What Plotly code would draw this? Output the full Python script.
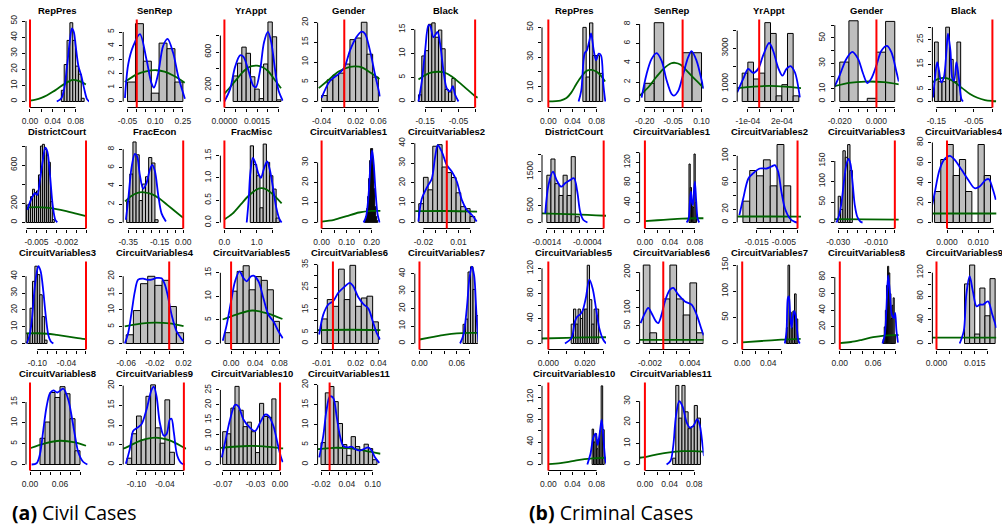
import plotly.graph_objects as go

W, H = 1002, 527

# ======================= (a) Civil cases =======================
civ_RepPres_edges = [0.055, 0.060, 0.065, 0.070, 0.075, 0.080, 0.085, 0.090, 0.095]
civ_RepPres_dens = [7, 23, 38, 49, 38, 22, 17, 2]
civ_RepPres_post_x = [0.047, 0.055, 0.060, 0.065, 0.070, 0.0735, 0.077, 0.080, 0.085, 0.090, 0.095, 0.100, 0.104]
civ_RepPres_post_y = [0, 2, 8, 22, 38, 45.5, 43, 35, 22, 16, 8, 1.5, 0]
civ_RepPres_prior_x = [0, 0.01, 0.02, 0.03, 0.04, 0.05, 0.06, 0.07, 0.075, 0.08, 0.09, 0.098]
civ_RepPres_prior_y = [0.6, 1.2, 2.3, 3.9, 6.0, 8.4, 10.8, 12.8, 13.4, 13.3, 12.2, 10.6]
civ_RepPres_xticks = [0, 0.02, 0.04, 0.06, 0.08]
civ_RepPres_xlabels = ['0.00', '', '0.04', '', '0.08']
civ_RepPres_yticks = [0, 10, 20, 30, 40, 50]
civ_RepPres_ylabels = ['0', '10', '20', '30', '40', '50']

civ_SenRep_edges = [-0.05, -0.007, 0.036, 0.079, 0.121, 0.164, 0.207, 0.25]
civ_SenRep_dens = [1.4, 5.6, 2.9, 0.6, 4.2, 3.8, 1.4]
civ_SenRep_post_x = [-0.064, -0.046, -0.019, 0.017, 0.053, 0.080, 0.093, 0.116, 0.143, 0.167, 0.197, 0.225, 0.261]
civ_SenRep_post_y = [0.25, 2.7, 4.0, 4.85, 3.0, 1.3, 1.0, 2.0, 4.0, 4.5, 3.5, 1.8, 0.2]
civ_SenRep_prior_x = [-0.065, 0, 0.05, 0.107, 0.15, 0.2, 0.26]
civ_SenRep_prior_y = [1.4, 1.95, 2.17, 2.25, 2.15, 1.85, 1.35]
civ_SenRep_xticks = [-0.05, 0, 0.05, 0.10, 0.15, 0.20, 0.25]
civ_SenRep_xlabels = ['-0.05', '', '', '0.10', '', '', '0.25']
civ_SenRep_yticks = [0, 1, 2, 3, 4, 5]
civ_SenRep_ylabels = ['0', '1', '2', '3', '4', '5']

civ_YrAppt_edges = [0.0004, 0.0006, 0.0008, 0.0010, 0.0012, 0.0014, 0.0016, 0.0018, 0.0020, 0.0022, 0.0024, 0.0026]
civ_YrAppt_dens = [310, 465, 660, 585, 300, 150, 35, 455, 965, 785, 20]
civ_YrAppt_post_x = [0, 0.00026, 0.00049, 0.00072, 0.00087, 0.0011, 0.00133, 0.00145, 0.00164, 0.00182, 0.0020, 0.00215, 0.00233, 0.00248, 0.00268]
civ_YrAppt_post_y = [0, 150, 420, 560, 545, 380, 190, 175, 380, 720, 845, 720, 380, 140, 10]
civ_YrAppt_prior_x = [0, 0.00025, 0.0005, 0.00075, 0.001, 0.00125, 0.0015, 0.00175, 0.002, 0.00225, 0.0026]
civ_YrAppt_prior_y = [95, 170, 250, 330, 395, 428, 435, 415, 370, 285, 160]
civ_YrAppt_xticks = [0, 0.0005, 0.001, 0.0015, 0.002, 0.0025]
civ_YrAppt_xlabels = ['0.0000', '', '', '0.0015', '', '']
civ_YrAppt_yticks = [0, 200, 400, 600, 800]
civ_YrAppt_ylabels = ['0', '200', '', '600', '']

civ_Gender_edges = [-0.04, -0.03, -0.02, -0.01, 0, 0.01, 0.02, 0.03, 0.04, 0.05, 0.06]
civ_Gender_dens = [1.5, 5.5, 6.7, 7.2, 9.5, 15.7, 16.1, 20.1, 12.0, 6.2]
civ_Gender_post_x = [-0.04, -0.0253, -0.0106, 0, 0.01, 0.0218, 0.0306, 0.0365, 0.0453, 0.0541, 0.063]
civ_Gender_post_y = [0.9, 5.2, 6.9, 8.6, 12.9, 16.4, 17.7, 17.2, 12.9, 6.9, 1.3]
civ_Gender_prior_x = [-0.045, -0.03, -0.01, 0.01, 0.02, 0.03, 0.045, 0.062]
civ_Gender_prior_y = [3.4, 5.2, 7.6, 8.8, 8.9, 8.7, 7.4, 5.7]
civ_Gender_xticks = [-0.04, -0.02, 0, 0.02, 0.04, 0.06]
civ_Gender_xlabels = ['-0.04', '', '', '0.02', '', '0.06']
civ_Gender_yticks = [0, 5, 10, 15, 20]
civ_Gender_ylabels = ['0', '5', '10', '15', '20']

civ_Black_edges = [-0.17, -0.16, -0.15, -0.14, -0.13, -0.12, -0.11, -0.10, -0.09, -0.08, -0.07, -0.06]
civ_Black_dens = [1.4, 9.5, 10.6, 16.1, 16.4, 13.4, 14.9, 11.0, 2.5, 2.0, 4.8]
civ_Black_post_x = [-0.17, -0.16, -0.15, -0.14, -0.135, -0.125, -0.113, -0.105, -0.095, -0.085, -0.075, -0.067, -0.06, -0.05]
civ_Black_post_y = [0, 4.2, 10.6, 15.9, 15.8, 13.4, 14.5, 12, 6.4, 2.7, 2.1, 3.2, 1.4, 0]
civ_Black_prior_x = [-0.17, -0.15, -0.13, -0.11, -0.09, -0.07, -0.05, -0.03, -0.01, 0, 0.008]
civ_Black_prior_y = [4.6, 5.5, 6.05, 6.2, 6.0, 5.2, 4.1, 2.9, 1.7, 1.1, 0.8]
civ_Black_xticks = [-0.15, -0.10, -0.05, 0]
civ_Black_xlabels = ['-0.15', '', '-0.05', '']
civ_Black_yticks = [0, 5, 10, 15]
civ_Black_ylabels = ['0', '5', '10', '15']

civ_DistrictCourt_edges = [-0.0060, -0.0058, -0.0056, -0.0054, -0.0052, -0.0050, -0.0048, -0.0046, -0.0044, -0.0042, -0.0040, -0.0038, -0.0036, -0.0034, -0.0032]
civ_DistrictCourt_dens = [184, 191, 271, 348, 313, 330, 498, 800, 818, 766, 706, 630, 219, 30]
civ_DistrictCourt_post_x = [-0.00593, -0.00549, -0.00515, -0.00492, -0.00465, -0.00438, -0.00411, -0.0039, -0.00364, -0.00337, -0.0031, -0.0029]
civ_DistrictCourt_post_y = [132, 254, 306, 289, 445, 637, 783, 741, 498, 184, 28, 3]
civ_DistrictCourt_prior_x = [-0.006, -0.005, -0.004, -0.003, -0.002, -0.001, 0]
civ_DistrictCourt_prior_y = [155, 160, 155, 140, 118, 92, 66]
civ_DistrictCourt_xticks = [-0.006, -0.005, -0.004, -0.003, -0.002, -0.001, 0]
civ_DistrictCourt_xlabels = ['', '-0.005', '', '', '-0.002', '', '']
civ_DistrictCourt_yticks = [0, 200, 400, 600, 800]
civ_DistrictCourt_ylabels = ['0', '200', '', '600', '']

civ_FracEcon_edges = [-0.36, -0.34, -0.32, -0.30, -0.28, -0.26, -0.24, -0.22, -0.20, -0.18, -0.16]
civ_FracEcon_dens = [2.3, 5.3, 8.8, 7.4, 2.4, 4.2, 5.0, 7.1, 6.5, 0.3]
civ_FracEcon_post_x = [-0.365, -0.35, -0.329, -0.308, -0.293, -0.276, -0.255, -0.234, -0.212, -0.197, -0.18, -0.159, -0.138, -0.11]
civ_FracEcon_post_y = [0.3, 2.5, 6, 7.5, 7.2, 5.2, 3.7, 4.3, 5.8, 6.3, 5.6, 3.0, 1.0, 0.1]
civ_FracEcon_prior_x = [-0.37, -0.33, -0.29, -0.25, -0.2, -0.15, -0.1, -0.05, 0]
civ_FracEcon_prior_y = [2.3, 2.9, 3.25, 3.3, 3.1, 2.6, 1.9, 1.2, 0.5]
civ_FracEcon_xticks = [-0.35, -0.30, -0.25, -0.20, -0.15, -0.10, -0.05, 0]
civ_FracEcon_xlabels = ['-0.35', '', '', '', '-0.15', '', '', '0.00']
civ_FracEcon_yticks = [0, 2, 4, 6, 8]
civ_FracEcon_ylabels = ['0', '2', '4', '6', '8']

civ_FracMisc_edges = [0.8, 0.9, 1.0, 1.1, 1.2, 1.3, 1.4, 1.5, 1.6, 1.7]
civ_FracMisc_dens = [1.72, 1.3, 1.05, 0.33, 1.76, 1.35, 1.05, 0.75, 0.1]
civ_FracMisc_post_x = [0.69, 0.75, 0.8, 0.88, 0.95, 1.05, 1.13, 1.22, 1.32, 1.4, 1.5, 1.6, 1.7, 1.77]
civ_FracMisc_post_y = [0, 0.5, 1.1, 1.45, 1.35, 1.1, 1.0, 1.2, 1.37, 1.2, 0.8, 0.35, 0.08, 0]
civ_FracMisc_prior_x = [0, 0.25, 0.5, 0.75, 1.0, 1.15, 1.3, 1.5, 1.77]
civ_FracMisc_prior_y = [0.07, 0.2, 0.4, 0.6, 0.74, 0.77, 0.74, 0.63, 0.43]
civ_FracMisc_xticks = [0, 0.5, 1.0, 1.5]
civ_FracMisc_xlabels = ['0.0', '', '1.0', '']
civ_FracMisc_yticks = [0, 0.5, 1.0, 1.5]
civ_FracMisc_ylabels = ['0.0', '0.5', '1.0', '1.5']

civ_CV1_edges = [0.172, 0.176, 0.180, 0.184, 0.188, 0.192, 0.196, 0.200, 0.204, 0.208, 0.212, 0.216, 0.220, 0.224]
civ_CV1_dens = [1, 3, 7, 13, 22, 31, 37, 37, 29, 17, 8, 3, 1]
civ_CV1_post_x = [0.168, 0.178, 0.188, 0.196, 0.202, 0.208, 0.216, 0.224, 0.232]
civ_CV1_post_y = [0, 3, 14, 30, 36, 30, 15, 4, 0]
civ_CV1_prior_x = [0, 0.05, 0.1, 0.15, 0.2, 0.236]
civ_CV1_prior_y = [0.4, 1.3, 3.2, 5.0, 5.8, 5.8]
civ_CV1_xticks = [0, 0.05, 0.10, 0.15, 0.20]
civ_CV1_xlabels = ['0.00', '', '0.10', '', '0.20']
civ_CV1_yticks = [0, 10, 20, 30]
civ_CV1_ylabels = ['0', '10', '20', '30']

civ_CV2_edges = [-0.024, -0.020, -0.016, -0.012, -0.008, -0.004, 0, 0.004, 0.008, 0.012, 0.016, 0.020, 0.024]
civ_CV2_dens = [9.5, 22.8, 16.5, 38.5, 39.3, 28, 25.2, 22.7, 15, 8, 7, 3]
civ_CV2_post_x = [-0.0243, -0.0214, -0.0163, -0.0129, -0.01, -0.0077, -0.0043, 0, 0.0043, 0.0086, 0.0129, 0.0171, 0.0214, 0.0257]
civ_CV2_post_y = [0.5, 12, 18.5, 22, 33, 39, 35.8, 29, 25.7, 20.7, 11.4, 6.4, 3.9, 0.5]
civ_CV2_prior_x = [-0.027, 0, 0.026]
civ_CV2_prior_y = [5.7, 5.8, 5.5]
civ_CV2_xticks = [-0.02, -0.01, 0, 0.01, 0.02]
civ_CV2_xlabels = ['-0.02', '', '', '0.01', '']
civ_CV2_yticks = [0, 10, 20, 30, 40]
civ_CV2_ylabels = ['0', '10', '20', '30', '40']

civ_CV3_edges = [-0.12, -0.115, -0.11, -0.105, -0.10, -0.095, -0.09, -0.085, -0.08]
civ_CV3_dens = [6, 21, 37, 46, 41, 29, 16, 2]
civ_CV3_post_x = [-0.1219, -0.1164, -0.1116, -0.1062, -0.1014, -0.0979, -0.0932, -0.0877, -0.0829, -0.0774, -0.0726, -0.0671]
civ_CV3_post_y = [0, 4.4, 13, 31, 42, 46, 43, 31, 17, 5, 1.4, 0]
civ_CV3_prior_x = [-0.123, -0.1, -0.08, -0.06, -0.04, -0.02, 0]
civ_CV3_prior_y = [6.0, 6.1, 5.8, 5.1, 4.3, 3.4, 2.6]
civ_CV3_xticks = [-0.10, -0.08, -0.06, -0.04, -0.02, 0]
civ_CV3_xlabels = ['-0.10', '', '', '-0.04', '', '']
civ_CV3_yticks = [0, 10, 20, 30, 40]
civ_CV3_ylabels = ['0', '10', '20', '30', '40']

civ_CV4_edges = [-0.06, -0.05, -0.04, -0.03, -0.02, -0.01, 0, 0.01, 0.02]
civ_CV4_dens = [2.6, 9.8, 17.8, 20.0, 17.3, 18.8, 11.0, 3.2]
civ_CV4_post_x = [-0.0619, -0.0572, -0.0526, -0.0479, -0.0433, -0.0363, -0.0316, -0.0247, -0.0177, -0.0107, -0.006, -0.0014, 0.0033, 0.0102, 0.0195]
civ_CV4_post_y = [0, 3.2, 9.1, 15.5, 19, 19.3, 19.0, 19, 19.5, 19.4, 17.5, 13.6, 8.6, 3.7, 0.7]
civ_CV4_prior_x = [-0.062, -0.04, -0.02, 0, 0.02]
civ_CV4_prior_y = [5.1, 5.9, 6.2, 6.0, 5.2]
civ_CV4_xticks = [-0.06, -0.04, -0.02, 0, 0.02]
civ_CV4_xlabels = ['-0.06', '', '-0.02', '', '0.02']
civ_CV4_yticks = [0, 5, 10, 15, 20]
civ_CV4_ylabels = ['0', '5', '10', '15', '20']

civ_CV5_edges = [-0.01, 0, 0.01, 0.02, 0.03, 0.04, 0.05, 0.06, 0.07, 0.08]
civ_CV5_dens = [2.3, 11.1, 15.3, 16.5, 11.4, 14.2, 13.4, 11.4, 4.7]
civ_CV5_post_x = [-0.0138, -0.0072, 0, 0.0066, 0.0138, 0.0204, 0.0259, 0.0326, 0.037, 0.0453, 0.0535, 0.0618, 0.0701, 0.0784, 0.0855]
civ_CV5_post_y = [0.6, 4, 9, 13.2, 15.3, 13.9, 13.2, 14.2, 14.4, 13.2, 9.6, 6.1, 4.7, 2.6, 1.1]
civ_CV5_prior_x = [-0.014, 0.01, 0.035, 0.06, 0.085]
civ_CV5_prior_y = [5.1, 6.2, 7.0, 6.4, 5.2]
civ_CV5_xticks = [0, 0.02, 0.04, 0.06, 0.08]
civ_CV5_xlabels = ['0.00', '', '0.04', '', '0.08']
civ_CV5_yticks = [0, 5, 10, 15]
civ_CV5_ylabels = ['0', '5', '10', '15']

civ_CV6_edges = [-0.01, -0.005, 0, 0.005, 0.01, 0.015, 0.02, 0.025, 0.03, 0.035, 0.04]
civ_CV6_dens = [10.9, 19.5, 16.5, 33.0, 19.5, 34.7, 16.5, 20.2, 21.0, 9.6]
civ_CV6_post_x = [-0.0121, -0.0085, -0.0041, 0.0003, 0.0047, 0.0091, 0.015, 0.0179, 0.0224, 0.0268, 0.0312, 0.035, 0.0385, 0.0415]
civ_CV6_post_y = [4, 12.8, 17.3, 18.8, 22.5, 24.7, 26.9, 25.4, 20.5, 17.5, 15.5, 10, 4.7, 1.8]
civ_CV6_prior_x = [-0.0135, 0.015, 0.042]
civ_CV6_prior_y = [5.9, 6.1, 5.9]
civ_CV6_xticks = [-0.01, 0, 0.01, 0.02, 0.03, 0.04]
civ_CV6_xlabels = ['-0.01', '', '', '0.02', '', '0.04']
civ_CV6_yticks = [0, 5, 10, 15, 20, 25, 30, 35]
civ_CV6_ylabels = ['0', '5', '', '15', '', '25', '', '35']

civ_CV7_edges = [0.070, 0.074, 0.078, 0.082, 0.086, 0.090, 0.094]
civ_CV7_dens = [11, 14, 41, 44, 31, 16]
civ_CV7_post_x = [0.0653, 0.0707, 0.076, 0.0803, 0.0841, 0.0878, 0.0911, 0.0937, 0.095]
civ_CV7_post_y = [0, 5, 20, 37.5, 44, 39, 20, 5, 1]
civ_CV7_prior_x = [0, 0.02, 0.04, 0.06, 0.08, 0.094]
civ_CV7_prior_y = [2.3, 3.6, 4.9, 5.8, 6.1, 6.1]
civ_CV7_xticks = [0, 0.02, 0.04, 0.06, 0.08]
civ_CV7_xlabels = ['0.00', '', '', '0.06', '']
civ_CV7_yticks = [0, 10, 20, 30, 40]
civ_CV7_ylabels = ['0', '10', '20', '30', '40']

civ_CV8_edges = [0.02, 0.03, 0.04, 0.05, 0.06, 0.07, 0.08, 0.09, 0.10]
civ_CV8_dens = [6.3, 10.2, 17.3, 16.1, 18.7, 17.0, 11.0, 3.3]
civ_CV8_post_x = [0.0033, 0.0133, 0.02, 0.0267, 0.0333, 0.04, 0.0467, 0.0547, 0.0667, 0.0767, 0.0833, 0.09, 0.0967, 0.1067, 0.1147]
civ_CV8_post_y = [0, 0.3, 2.5, 8.4, 14, 17.1, 17.8, 17.3, 18.2, 15.5, 11.6, 6.9, 2.9, 0.6, 0]
civ_CV8_prior_x = [0, 0.03, 0.06, 0.09, 0.112]
civ_CV8_prior_y = [3.9, 5.1, 5.7, 5.3, 4.5]
civ_CV8_xticks = [0, 0.02, 0.04, 0.06, 0.08, 0.10]
civ_CV8_xlabels = ['0.00', '', '', '0.06', '', '']
civ_CV8_yticks = [0, 5, 10, 15]
civ_CV8_ylabels = ['0', '5', '10', '15']

civ_CV9_edges = [-0.12, -0.11, -0.10, -0.09, -0.08, -0.07, -0.06, -0.05, -0.04, -0.03, -0.02]
civ_CV9_dens = [1.6, 7.8, 12.3, 6.3, 17.3, 20.2, 9.3, 5.4, 16.4, 3.1]
civ_CV9_post_x = [-0.1225, -0.1141, -0.107, -0.0986, -0.0894, -0.0789, -0.0683, -0.0634, -0.0577, -0.0507, -0.0423, -0.0366, -0.0296, -0.0261, -0.0211, -0.0141, -0.0049, 0.0021]
civ_CV9_post_y = [0.2, 3.9, 8.5, 9.3, 10.2, 13.9, 18.9, 19.75, 17.3, 10.6, 7.3, 7.7, 11.4, 11.6, 8.1, 2.3, 0.3, 0]
civ_CV9_prior_x = [-0.128, -0.12, -0.09, -0.06, -0.03, 0, 0.005]
civ_CV9_prior_y = [4.0, 4.4, 6.1, 6.8, 6.1, 4.3, 4.0]
civ_CV9_xticks = [-0.10, -0.08, -0.06, -0.04, -0.02, 0]
civ_CV9_xlabels = ['-0.10', '', '', '-0.04', '', '']
civ_CV9_yticks = [0, 5, 10, 15, 20]
civ_CV9_ylabels = ['0', '5', '10', '15', '20']

civ_CV10_edges = [-0.070, -0.065, -0.060, -0.055, -0.050, -0.045, -0.040, -0.035, -0.030, -0.025, -0.020, -0.015, -0.010, -0.005]
civ_CV10_dens = [11.0, 10.3, 18.9, 26.2, 18.2, 12.7, 14.2, 11.0, 4.0, 20.5, 16.1, 15.8, 22.0]
civ_CV10_post_x = [-0.0711, -0.0671, -0.061, -0.0549, -0.0508, -0.0447, -0.0366, -0.0305, -0.0244, -0.0183, -0.0142, -0.0081, -0.0033, 0.0008, 0.0033]
civ_CV10_post_y = [2.4, 7.4, 15.1, 20, 19.5, 15.1, 12.3, 11.2, 14, 16.7, 16.4, 12.9, 7.4, 2.8, 0.8]
civ_CV10_prior_x = [-0.072, -0.04, -0.02, 0, 0.004]
civ_CV10_prior_y = [5.6, 6.2, 6.1, 5.5, 5.4]
civ_CV10_xticks = [-0.07, -0.06, -0.05, -0.04, -0.03, -0.02, -0.01, 0]
civ_CV10_xlabels = ['-0.07', '', '', '', '-0.03', '', '', '0.00']
civ_CV10_yticks = [0, 5, 10, 15, 20, 25]
civ_CV10_ylabels = ['0', '5', '10', '15', '20', '25']

civ_CV11_edges = [-0.02, -0.01, 0, 0.01, 0.02, 0.03, 0.04, 0.05, 0.06, 0.07, 0.08, 0.09, 0.10, 0.11]
civ_CV11_dens = [5.5, 18.0, 19.6, 15.8, 10.3, 5.0, 2.3, 7.0, 4.5, 3.6, 5.1, 4.0, 1.2]
civ_CV11_post_x = [-0.024, -0.0147, -0.007, 0.0008, 0.0085, 0.0163, 0.024, 0.0317, 0.0433, 0.0511, 0.0588, 0.0704, 0.082, 0.0898, 0.0975, 0.1053, 0.1153]
civ_CV11_post_y = [1.8, 7.2, 13.8, 17.1, 16.7, 12.1, 7.2, 4.7, 4.3, 4.5, 3.9, 3.5, 4.0, 4.3, 3.5, 1.8, 0.4]
civ_CV11_prior_x = [-0.028, -0.022, 0.01, 0.04, 0.07, 0.1, 0.118]
civ_CV11_prior_y = [3.85, 3.9, 4.2, 4.1, 3.7, 3.1, 2.7]
civ_CV11_xticks = [-0.02, 0, 0.02, 0.04, 0.06, 0.08, 0.10]
civ_CV11_xlabels = ['-0.02', '', '', '0.04', '', '', '0.10']
civ_CV11_yticks = [0, 5, 10, 15, 20]
civ_CV11_ylabels = ['0', '5', '10', '15', '20']

# ======================= (b) Criminal cases =======================
crim_RepPres_edges = [0.0572, 0.0627, 0.0682, 0.0737, 0.0792, 0.0847, 0.0902]
crim_RepPres_dens = [50, 16.5, 53, 31, 31, 19]
crim_RepPres_post_x = [0.0501, 0.0545, 0.06, 0.0638, 0.0681, 0.0708, 0.0752, 0.079, 0.0834, 0.0872, 0.091, 0.0943]
crim_RepPres_post_y = [0, 7.3, 32.3, 34.5, 41.4, 45.9, 34.5, 27.7, 32.3, 31.1, 11.8, 0]
crim_RepPres_prior_x = [0, 0.02, 0.03, 0.038, 0.046, 0.055, 0.064, 0.072, 0.08, 0.088, 0.094]
crim_RepPres_prior_y = [0.1, 0.6, 2.3, 6, 11.5, 17, 20.8, 21.3, 20, 17, 13.5]
crim_RepPres_xticks = [0, 0.02, 0.04, 0.06, 0.08]
crim_RepPres_xlabels = ['0.00', '', '0.04', '', '0.08']
crim_RepPres_yticks = [0, 10, 20, 30, 40, 50]
crim_RepPres_ylabels = ['0', '10', '', '30', '', '50']

crim_SenRep_edges = [-0.20, -0.15, -0.10, -0.05, 0, 0.05, 0.10]
crim_SenRep_dens = [1.88, 8.14, 0, 0, 5.04, 5.04]
crim_SenRep_post_x = [-0.217, -0.1905, -0.164, -0.1376, -0.111, -0.0847, -0.0582, -0.0459, -0.0229, 0.0035, 0.03, 0.0476, 0.074, 0.1005, 0.111]
crim_SenRep_post_y = [0.4, 2.85, 4.4, 5.0, 4.2, 2.2, 0.77, 0.6, 1.1, 2.85, 4.6, 5.2, 4.2, 2.2, 1.3]
crim_SenRep_prior_x = [-0.227, -0.18, -0.14, -0.1, -0.06, -0.04, -0.01, 0.03, 0.07, 0.111]
crim_SenRep_prior_y = [0.6, 1.5, 2.5, 3.4, 3.95, 4.0, 3.8, 3.0, 2.2, 1.4]
crim_SenRep_xticks = [-0.20, -0.15, -0.10, -0.05, 0, 0.05, 0.10]
crim_SenRep_xlabels = ['-0.20', '', '', '-0.05', '', '', '0.10']
crim_SenRep_yticks = [0, 2, 4, 6, 8]
crim_SenRep_ylabels = ['0', '2', '4', '6', '8']

crim_YrAppt_edges = [-0.00015, -0.00010, -0.00005, 0, 0.00005, 0.00010, 0.00015, 0.00020, 0.00025, 0.00030, 0.00035]
crim_YrAppt_dens = [1600, 2220, 1270, 1600, 4450, 3840, 320, 950, 3840, 320]
crim_YrAppt_post_x = [-1.94e-4, -1.41e-4, -0.97e-4, -0.53e-4, -0.09e-4, 0.35e-4, 0.88e-4, 1.24e-4, 1.68e-4, 2.06e-4, 2.41e-4, 2.76e-4, 3.15e-4, 3.59e-4]
crim_YrAppt_post_y = [510, 1270, 1840, 1610, 1840, 2600, 3300, 2850, 1900, 1460, 1840, 2000, 1650, 230]
crim_YrAppt_prior_x = [-1.94e-4, -0.5e-4, 0.9e-4, 2.3e-4, 3.7e-4]
crim_YrAppt_prior_y = [760, 840, 880, 840, 760]
crim_YrAppt_xticks = [-1e-4, 0, 1e-4, 2e-4, 3e-4]
crim_YrAppt_xlabels = ['-1e-04', '', '', '2e-04', '']
crim_YrAppt_yticks = [0, 1000, 2000, 3000, 4000]
crim_YrAppt_ylabels = ['0', '1000', '', '3000', '']

crim_Gender_edges = [-0.020, -0.015, -0.010, -0.005, 0, 0.005, 0.010]
crim_Gender_dens = [31, 63.5, 0, 2.5, 38.8, 63]
crim_Gender_post_x = [-0.0227, -0.02, -0.0164, -0.0131, -0.01, -0.0073, -0.0049, -0.0027, 0, 0.0027, 0.0058, 0.0082, 0.0109, 0.0122]
crim_Gender_post_y = [12, 20.8, 33.5, 39, 33.5, 22, 14.5, 18.3, 28.4, 40, 43.7, 38.6, 23.4, 15.7]
crim_Gender_prior_x = [-0.0227, -0.015, -0.006, 0.004, 0.0122]
crim_Gender_prior_y = [12, 14.6, 15.7, 15.2, 13.5]
crim_Gender_xticks = [-0.020, -0.015, -0.010, -0.005, 0, 0.005, 0.010]
crim_Gender_xlabels = ['-0.020', '', '', '', '0.000', '', '']
crim_Gender_yticks = [0, 10, 20, 30, 40, 50, 60]
crim_Gender_ylabels = ['0', '10', '', '30', '', '50', '']

crim_Black_edges = [-0.155, -0.145, -0.135, -0.125, -0.115, -0.105, -0.095, -0.085]
crim_Black_dens = [24, 8, 8, 30, 17, 8, 24]
crim_Black_post_x = [-0.159, -0.1545, -0.148, -0.143, -0.137, -0.13, -0.123, -0.119, -0.1125, -0.107, -0.1027, -0.0964, -0.0902, -0.083, -0.0786]
crim_Black_post_y = [1.6, 8.4, 15.9, 12.5, 7.7, 9.8, 20.6, 27.4, 20.6, 9.1, 8.4, 15.9, 9.8, 1, 0]
crim_Black_prior_x = [-0.16, -0.145, -0.13, -0.115, -0.1, -0.08, -0.06, -0.04, -0.02, 0, 0.01]
crim_Black_prior_y = [7.8, 9.1, 9.5, 9.0, 7.7, 5.3, 3.0, 1.5, 0.6, 0.2, 0.1]
crim_Black_xticks = [-0.15, -0.10, -0.05, 0]
crim_Black_xlabels = ['-0.15', '', '-0.05', '']
crim_Black_yticks = [0, 5, 10, 15, 20, 25, 30]
crim_Black_ylabels = ['0', '5', '', '15', '', '25', '']

crim_DistrictCourt_edges = [-0.0014, -0.0013, -0.0012, -0.0011, -0.0010, -0.0009, -0.0008, -0.0007, -0.0006]
crim_DistrictCourt_dens = [1400, 1880, 1150, 800, 1400, 800, 1950, 170]
crim_DistrictCourt_post_x = [-0.00144, -0.00136, -0.00125, -0.00116, -0.00105, -0.00095, -0.00083, -0.00073, -0.00065, -0.00058, -0.0005, -0.0004]
crim_DistrictCourt_post_y = [270, 1110, 1505, 1255, 1060, 1160, 1255, 1310, 910, 320, 74, 0]
crim_DistrictCourt_prior_x = [-0.00152, -0.0007, 0.00006]
crim_DistrictCourt_prior_y = [268, 240, 200]
crim_DistrictCourt_xticks = [-0.0014, -0.0012, -0.0010, -0.0008, -0.0006, -0.0004, -0.0002, 0]
crim_DistrictCourt_xlabels = ['-0.0014', '', '', '', '', '-0.0004', '', '']
crim_DistrictCourt_yticks = [0, 500, 1000, 1500, 2000]
crim_DistrictCourt_ylabels = ['0', '500', '', '1500', '']

crim_CV1_edges = [0.0705, 0.0725, 0.0745, 0.0765, 0.0785, 0.0805, 0.0825]
crim_CV1_dens = [117, 70, 33, 30, 137, 40]
crim_CV1_post_x = [0.0667, 0.0699, 0.072, 0.0736, 0.0752, 0.0768, 0.0784, 0.080, 0.0821, 0.0843, 0.0869]
crim_CV1_post_y = [0, 8, 41, 61.7, 41, 35, 61.7, 81.7, 41.7, 8, 0]
crim_CV1_prior_x = [0, 0.02, 0.04, 0.06, 0.08, 0.094]
crim_CV1_prior_y = [2.8, 4.5, 6.3, 7.8, 8.5, 8.5]
crim_CV1_xticks = [0, 0.02, 0.04, 0.06, 0.08]
crim_CV1_xlabels = ['0.00', '', '0.04', '', '0.08']
crim_CV1_yticks = [0, 20, 40, 60, 80, 100, 120, 140]
crim_CV1_ylabels = ['0', '', '40', '', '80', '', '120', '']

crim_CV2_edges = [-0.0200, -0.0175, -0.0150, -0.0125, -0.0100, -0.0075, -0.0050, -0.0025]
crim_CV2_dens = [32, 78, 70, 94, 55, 117, 55]
crim_CV2_post_x = [-0.0213, -0.0199, -0.018, -0.0162, -0.0138, -0.0113, -0.0095, -0.0083, -0.0071, -0.0059, -0.0046, -0.0028, -0.001, 0]
crim_CV2_post_y = [11, 36, 66, 74, 81, 81, 84, 86, 76, 46, 21, 6, 1, 0]
crim_CV2_prior_x = [-0.022, -0.01, 0.0013]
crim_CV2_prior_y = [9, 9, 8.8]
crim_CV2_xticks = [-0.015, -0.010, -0.005, 0]
crim_CV2_xlabels = ['-0.015', '', '-0.005', '']
crim_CV2_yticks = [0, 20, 40, 60, 80, 100]
crim_CV2_ylabels = ['0', '20', '', '60', '', '100']

crim_CV3_edges = [-0.03, -0.02875, -0.0275, -0.02625, -0.025, -0.02375, -0.0225]
crim_CV3_dens = [64, 32, 175, 159, 190, 127]
crim_CV3_post_x = [-0.0309, -0.0295, -0.0282, -0.027, -0.0256, -0.0245, -0.0235, -0.0224, -0.0212, -0.0199, -0.0182, -0.0171]
crim_CV3_post_y = [0, 18, 50, 98, 143, 155, 143, 98, 42, 14, 2, 0]
crim_CV3_prior_x = [-0.0318, -0.015, 0.0021]
crim_CV3_prior_y = [8, 7.5, 7]
crim_CV3_xticks = [-0.030, -0.025, -0.020, -0.015, -0.010, -0.005, 0]
crim_CV3_xlabels = ['-0.030', '', '', '', '-0.010', '', '']
crim_CV3_yticks = [0, 50, 100, 150]
crim_CV3_ylabels = ['0', '50', '100', '150']

crim_CV4_edges = [-0.004, -0.002, 0, 0.002, 0.004, 0.006, 0.008, 0.010, 0.012, 0.014]
crim_CV4_dens = [31, 63, 78, 47, 63, 31, 0, 78, 47]
crim_CV4_post_x = [-0.0051, -0.004, -0.0024, -0.0008, 0.0009, 0.0025, 0.0047, 0.0068, 0.0089, 0.0105, 0.0125, 0.0135, 0.0148, 0.0157]
crim_CV4_post_y = [12.7, 29, 52.7, 63.3, 66.7, 62.7, 52.7, 42.7, 34.3, 36, 42.7, 43.3, 32.7, 22.7]
crim_CV4_prior_x = [-0.0047, 0.016]
crim_CV4_prior_y = [9, 9]
crim_CV4_xticks = [0, 0.005, 0.010, 0.015]
crim_CV4_xlabels = ['0.000', '', '0.010', '']
crim_CV4_yticks = [0, 20, 40, 60, 80]
crim_CV4_ylabels = ['0', '20', '40', '60', '80']

crim_CV5_edges = [0.0125, 0.01375, 0.015, 0.01625, 0.0175, 0.01875, 0.02, 0.02125, 0.0225, 0.02375, 0.025, 0.02625, 0.0275]
crim_CV5_dens = [31, 55, 31, 55, 40, 55, 55, 125, 70, 31, 55, 55]
crim_CV5_post_x = [0.0091, 0.0127, 0.0145, 0.0158, 0.0173, 0.0187, 0.0205, 0.0224, 0.0242, 0.026, 0.0278, 0.030, 0.0315]
crim_CV5_post_y = [0, 9, 35, 43, 46, 52, 73, 102, 88, 57, 25, 6, 0]
crim_CV5_prior_x = [-0.0035, 0.01, 0.02, 0.0315]
crim_CV5_prior_y = [8, 9, 9.7, 10]
crim_CV5_xticks = [0, 0.01, 0.02, 0.03]
crim_CV5_xlabels = ['0.000', '', '0.020', '']
crim_CV5_yticks = [0, 20, 40, 60, 80, 100, 120]
crim_CV5_ylabels = ['0', '', '40', '', '80', '', '120']

crim_CV6_edges = [-0.003, -0.002, -0.001, 0, 0.001, 0.002, 0.003, 0.004, 0.005, 0.006]
crim_CV6_dens = [220, 30, 0, 125, 220, 125, 80, 170, 30]
crim_CV6_post_x = [-0.0034, -0.00275, -0.00225, -0.00175, -0.0011, -0.00075, -0.00025, 0.00025, 0.001, 0.0015, 0.00225, 0.00325, 0.00425, 0.005, 0.00575, 0.00605]
crim_CV6_post_y = [57, 85, 100, 85, 62, 57, 81, 118, 151, 156, 137, 118, 109, 81, 39, 23]
crim_CV6_prior_x = [-0.0036, 0.0061]
crim_CV6_prior_y = [10, 10]
crim_CV6_xticks = [-0.002, 0, 0.002, 0.004]
crim_CV6_xlabels = ['-0.002', '', '', '0.004']
crim_CV6_yticks = [0, 50, 100, 150, 200]
crim_CV6_ylabels = ['0', '50', '100', '', '200']

crim_CV7_edges = [0.068, 0.0705, 0.073, 0.0755, 0.078, 0.0805, 0.083, 0.0855]
crim_CV7_dens = [30, 150, 60, 30, 62, 95, 47]
crim_CV7_post_x = [0.0656, 0.0682, 0.0703, 0.0718, 0.0738, 0.0759, 0.0779, 0.080, 0.0821, 0.0841, 0.0867, 0.0887]
crim_CV7_post_y = [0, 23, 87, 90, 55, 30, 49, 62, 55, 30, 4.5, 0]
crim_CV7_prior_x = [0, 0.03, 0.06, 0.09]
crim_CV7_prior_y = [2.3, 4.8, 7.3, 9]
crim_CV7_xticks = [0, 0.02, 0.04, 0.06]
crim_CV7_xlabels = ['0.00', '', '0.04', '']
crim_CV7_yticks = [0, 50, 100, 150]
crim_CV7_ylabels = ['0', '50', '100', '150']

crim_CV8_edges = [0.078, 0.080, 0.082, 0.084, 0.086, 0.088, 0.090, 0.092, 0.094, 0.096, 0.098, 0.100]
crim_CV8_dens = [5, 20, 40, 70, 93, 85, 60, 30, 46, 55, 10]
crim_CV8_post_x = [0.0768, 0.081, 0.084, 0.087, 0.090, 0.0936, 0.0972, 0.0996, 0.102, 0.105]
crim_CV8_post_y = [0, 10.8, 43, 82, 63, 35, 31, 37, 15, 1]
crim_CV8_prior_x = [0, 0.02, 0.04, 0.06, 0.08, 0.10, 0.106]
crim_CV8_prior_y = [0.5, 1.8, 4.5, 7.6, 9.6, 10.2, 10.2]
crim_CV8_xticks = [0, 0.02, 0.04, 0.06, 0.08, 0.10]
crim_CV8_xlabels = ['0.00', '', '', '0.06', '', '']
crim_CV8_yticks = [0, 20, 40, 60, 80]
crim_CV8_ylabels = ['0', '20', '40', '60', '80']

crim_CV9_edges = [0.011, 0.013, 0.015, 0.017, 0.019, 0.021, 0.023]
crim_CV9_dens = [101, 133, 16, 94, 47, 110]
crim_CV9_post_x = [0.0091, 0.0107, 0.0117, 0.013, 0.0143, 0.0157, 0.017, 0.0183, 0.0202, 0.0219, 0.0235]
crim_CV9_post_y = [0, 21, 83, 114, 88, 63, 66, 66, 71.5, 49, 26.5]
crim_CV9_prior_x = [-0.0016, 0.0235]
crim_CV9_prior_y = [10, 10]
crim_CV9_xticks = [0, 0.005, 0.010, 0.015, 0.020]
crim_CV9_xlabels = ['0.000', '', '', '0.015', '']
crim_CV9_yticks = [0, 20, 40, 60, 80, 100, 120]
crim_CV9_ylabels = ['0', '', '40', '', '80', '', '120']

crim_CV10_edges = [0.0725, 0.075, 0.0775, 0.080, 0.0825, 0.085, 0.0875, 0.090, 0.0925]
crim_CV10_dens = [63, 40, 55, 28, 45, 60, 140, 62]
crim_CV10_post_x = [0.0646, 0.070, 0.0745, 0.0784, 0.0817, 0.085, 0.0883, 0.091, 0.0944, 0.0966]
crim_CV10_post_y = [0, 20, 48, 55, 35, 55, 80, 50, 8, 0]
crim_CV10_prior_x = [0, 0.02, 0.04, 0.06, 0.08, 0.095]
crim_CV10_prior_y = [0.6, 2.5, 6, 9.5, 11.5, 12]
crim_CV10_xticks = [0, 0.02, 0.04, 0.06, 0.08]
crim_CV10_xlabels = ['0.00', '', '0.04', '', '0.08']
crim_CV10_yticks = [0, 20, 40, 60, 80, 100, 120, 140]
crim_CV10_ylabels = ['0', '', '40', '', '80', '', '120', '']

crim_CV11_edges = [0.045, 0.050, 0.055, 0.060, 0.065, 0.070, 0.075, 0.080, 0.085, 0.090]
crim_CV11_dens = [3, 37.5, 22, 37.5, 25, 17, 18, 28, 22]
crim_CV11_post_x = [0.0351, 0.0416, 0.046, 0.0503, 0.0557, 0.0611, 0.0676, 0.073, 0.0784, 0.0849, 0.0892, 0.0935, 0.0957]
crim_CV11_post_y = [0, 1.8, 9, 23, 30, 27.5, 20, 17.5, 18.3, 21.5, 18.3, 9, 4]
crim_CV11_prior_x = [-0.0086, 0, 0.02, 0.04, 0.06, 0.08, 0.095]
crim_CV11_prior_y = [3.2, 3.5, 4.8, 5.8, 6.3, 6.3, 6.1]
crim_CV11_xticks = [0, 0.02, 0.04, 0.06, 0.08]
crim_CV11_xlabels = ['0.00', '', '0.04', '', '0.08']
crim_CV11_yticks = [0, 10, 20, 30]
crim_CV11_ylabels = ['0', '10', '20', '30']

# ======================= panel layout (positions only) =======================
PANELS = [
    ('a', 0, 0, 'RepPres', 'civ_RepPres'), ('a', 0, 1, 'SenRep', 'civ_SenRep'),
    ('a', 0, 2, 'YrAppt', 'civ_YrAppt'), ('a', 0, 3, 'Gender', 'civ_Gender'),
    ('a', 0, 4, 'Black', 'civ_Black'),
    ('a', 1, 0, 'DistrictCourt', 'civ_DistrictCourt'), ('a', 1, 1, 'FracEcon', 'civ_FracEcon'),
    ('a', 1, 2, 'FracMisc', 'civ_FracMisc'), ('a', 1, 3, 'CircuitVariables1', 'civ_CV1'),
    ('a', 1, 4, 'CircuitVariables2', 'civ_CV2'),
    ('a', 2, 0, 'CircuitVariables3', 'civ_CV3'), ('a', 2, 1, 'CircuitVariables4', 'civ_CV4'),
    ('a', 2, 2, 'CircuitVariables5', 'civ_CV5'), ('a', 2, 3, 'CircuitVariables6', 'civ_CV6'),
    ('a', 2, 4, 'CircuitVariables7', 'civ_CV7'),
    ('a', 3, 0, 'CircuitVariables8', 'civ_CV8'), ('a', 3, 1, 'CircuitVariables9', 'civ_CV9'),
    ('a', 3, 2, 'CircuitVariables10', 'civ_CV10'), ('a', 3, 3, 'CircuitVariables11', 'civ_CV11'),
    ('b', 0, 0, 'RepPres', 'crim_RepPres'), ('b', 0, 1, 'SenRep', 'crim_SenRep'),
    ('b', 0, 2, 'YrAppt', 'crim_YrAppt'), ('b', 0, 3, 'Gender', 'crim_Gender'),
    ('b', 0, 4, 'Black', 'crim_Black'),
    ('b', 1, 0, 'DistrictCourt', 'crim_DistrictCourt'), ('b', 1, 1, 'CircuitVariables1', 'crim_CV1'),
    ('b', 1, 2, 'CircuitVariables2', 'crim_CV2'), ('b', 1, 3, 'CircuitVariables3', 'crim_CV3'),
    ('b', 1, 4, 'CircuitVariables4', 'crim_CV4'),
    ('b', 2, 0, 'CircuitVariables5', 'crim_CV5'), ('b', 2, 1, 'CircuitVariables6', 'crim_CV6'),
    ('b', 2, 2, 'CircuitVariables7', 'crim_CV7'), ('b', 2, 3, 'CircuitVariables8', 'crim_CV8'),
    ('b', 2, 4, 'CircuitVariables9', 'crim_CV9'),
    ('b', 3, 0, 'CircuitVariables10', 'crim_CV10'), ('b', 3, 1, 'CircuitVariables11', 'crim_CV11'),
]

RANGES = {
    'civ_RepPres': (-0.007, 0.1035, 51), 'civ_SenRep': (-0.0735, 0.268, 5.9),
    'civ_YrAppt': (-0.000184, 0.00271, 995), 'civ_Gender': (-0.047, 0.064, 20.8),
    'civ_Black': (-0.181, 0.008, 17.1), 'civ_DistrictCourt': (-0.00606, 0.0003, 858),
    'civ_FracEcon': (-0.382, 0.019, 8.96), 'civ_FracMisc': (-0.124, 1.825, 1.84),
    'civ_CV1': (-0.016, 0.236, 41), 'civ_CV2': (-0.0274, 0.0266, 41.4),
    'civ_CV3': (-0.1233, 0.0062, 48.8), 'civ_CV4': (-0.0642, 0.0237, 24.4),
    'civ_CV5': (-0.0177, 0.0866, 17.4), 'civ_CV6': (-0.0135, 0.042, 36.4),
    'civ_CV7': (-0.0075, 0.0937, 47), 'civ_CV8': (-0.008, 0.118, 19.7),
    'civ_CV9': (-0.128, 0.0049, 20.8), 'civ_CV10': (-0.0728, 0.0041, 27.5),
    'civ_CV11': (-0.0279, 0.1184, 20.6),
    'crim_RepPres': (-0.0105, 0.0955, 55.3), 'crim_SenRep': (-0.2275, 0.111, 8.47),
    'crim_YrAppt': (-1.94e-4, 3.71e-4, 4627), 'crim_Gender': (-0.0227, 0.0122, 64.5),
    'crim_Black': (-0.1607, 0.0107, 33.1), 'crim_DistrictCourt': (-0.00152, 0.0000574, 2428),
    'crim_CV1': (-0.0085, 0.0939, 164), 'crim_CV2': (-0.0221, 0.00134, 123),
    'crim_CV3': (-0.0318, 0.0021, 200), 'crim_CV4': (-0.0047, 0.0159, 82),
    'crim_CV5': (-0.00345, 0.0315, 131), 'crim_CV6': (-0.00355, 0.00605, 230),
    'crim_CV7': (-0.0077, 0.0908, 157), 'crim_CV8': (-0.009, 0.1062, 98.8),
    'crim_CV9': (-0.0016, 0.0235, 139), 'crim_CV10': (-0.0105, 0.0955, 146),
    'crim_CV11': (-0.0086, 0.0951, 38.9),
}

G = globals()
TICKFONT = dict(family='Liberation Sans, Arial, sans-serif', size=8.5, color='#222222')

fig = go.Figure()
layout = dict(width=W, height=H, margin=dict(l=0, r=0, t=0, b=0),
              paper_bgcolor='white', plot_bgcolor='white', showlegend=False,
              barmode='overlay')
shapes, annotations = [], []

for i, (side, row, col, title, key) in enumerate(PANELS, start=1):
    sfx = '' if i == 1 else str(i)
    xid, yid = 'x' + sfx, 'y' + sfx
    if side == 'a':
        L = 26 + 97.2 * col
        R = L + 63
    else:
        L = 542 + 97.6 * col
        R = L + 64
    T = 19.5 + 121 * row
    B = T + 88
    xlo, xhi, yhi = RANGES[key]
    ylo = -yhi * 6.0 / 82.0

    edges = G[key + '_edges']
    dens = G[key + '_dens']
    centers = [(edges[k] + edges[k + 1]) / 2 for k in range(len(dens))]
    widths = [edges[k + 1] - edges[k] for k in range(len(dens))]

    fig.add_trace(go.Bar(x=centers, y=dens, width=widths, xaxis=xid, yaxis=yid,
                         marker=dict(color='#BEBEBE', line=dict(color='black', width=1)),
                         hoverinfo='skip'))
    fig.add_trace(go.Scatter(x=G[key + '_prior_x'], y=G[key + '_prior_y'], mode='lines',
                             xaxis=xid, yaxis=yid, hoverinfo='skip',
                             line=dict(color='#006400', width=1.8, shape='spline', smoothing=0.9)))
    fig.add_trace(go.Scatter(x=G[key + '_post_x'], y=G[key + '_post_y'], mode='lines',
                             xaxis=xid, yaxis=yid, hoverinfo='skip',
                             line=dict(color='#0000FF', width=1.8, shape='spline', smoothing=0.9)))

    xt, xl = G[key + '_xticks'], G[key + '_xlabels']
    yt, yl = G[key + '_yticks'], G[key + '_ylabels']
    layout['xaxis' + sfx] = dict(domain=[L / W, R / W], anchor=yid, range=[xlo, xhi],
                                 tickmode='array', tickvals=xt, ticktext=xl,
                                 ticks='outside', ticklen=3, tickwidth=1, tickcolor='black',
                                 showline=False, showgrid=False, zeroline=False,
                                 tickfont=TICKFONT, ticklabelstandoff=2, automargin=False,
                                 fixedrange=True)
    layout['yaxis' + sfx] = dict(domain=[1 - B / H, 1 - T / H], anchor=xid, range=[ylo, yhi],
                                 tickmode='array', tickvals=yt, ticktext=yl, tickangle=-90,
                                 ticks='outside', ticklen=3, tickwidth=1, tickcolor='black',
                                 showline=False, showgrid=False, zeroline=False,
                                 tickfont=TICKFONT, ticklabelstandoff=2, automargin=False,
                                 fixedrange=True)
    shapes.append(dict(type='line', xref=xid, yref=yid + ' domain', x0=xt[0], x1=xt[-1],
                       y0=0, y1=0, line=dict(color='black', width=1)))
    shapes.append(dict(type='line', xref=xid + ' domain', yref=yid, x0=0, x1=0,
                       y0=yt[0], y1=yt[-1], line=dict(color='black', width=1)))
    shapes.append(dict(type='line', xref=xid, yref=yid + ' domain', x0=0, x1=0, y0=0, y1=1,
                       line=dict(color='#FF0000', width=2)))
    annotations.append(dict(text='<b>' + title + '</b>', x=(L + R) / 2 / W, y=1 - (T - 9) / H,
                            xref='paper', yref='paper', showarrow=False,
                            xanchor='center', yanchor='middle',
                            font=dict(family='Liberation Sans, Arial, sans-serif', size=9.5,
                                      color='black')))

annotations.append(dict(text='<b>(a)</b> Civil Cases', x=10 / W, y=1 - 512.5 / H, xref='paper',
                        yref='paper', showarrow=False, xanchor='left', yanchor='middle',
                        font=dict(family='Open Sans, sans-serif', size=19.5, color='black')))
annotations.append(dict(text='<b>(b)</b> Criminal Cases', x=527 / W, y=1 - 512.5 / H, xref='paper',
                        yref='paper', showarrow=False, xanchor='left', yanchor='middle',
                        font=dict(family='Open Sans, sans-serif', size=19.5, color='black')))

layout['shapes'] = shapes
layout['annotations'] = annotations
fig.update_layout(**layout)
fig.write_html('out.html')
